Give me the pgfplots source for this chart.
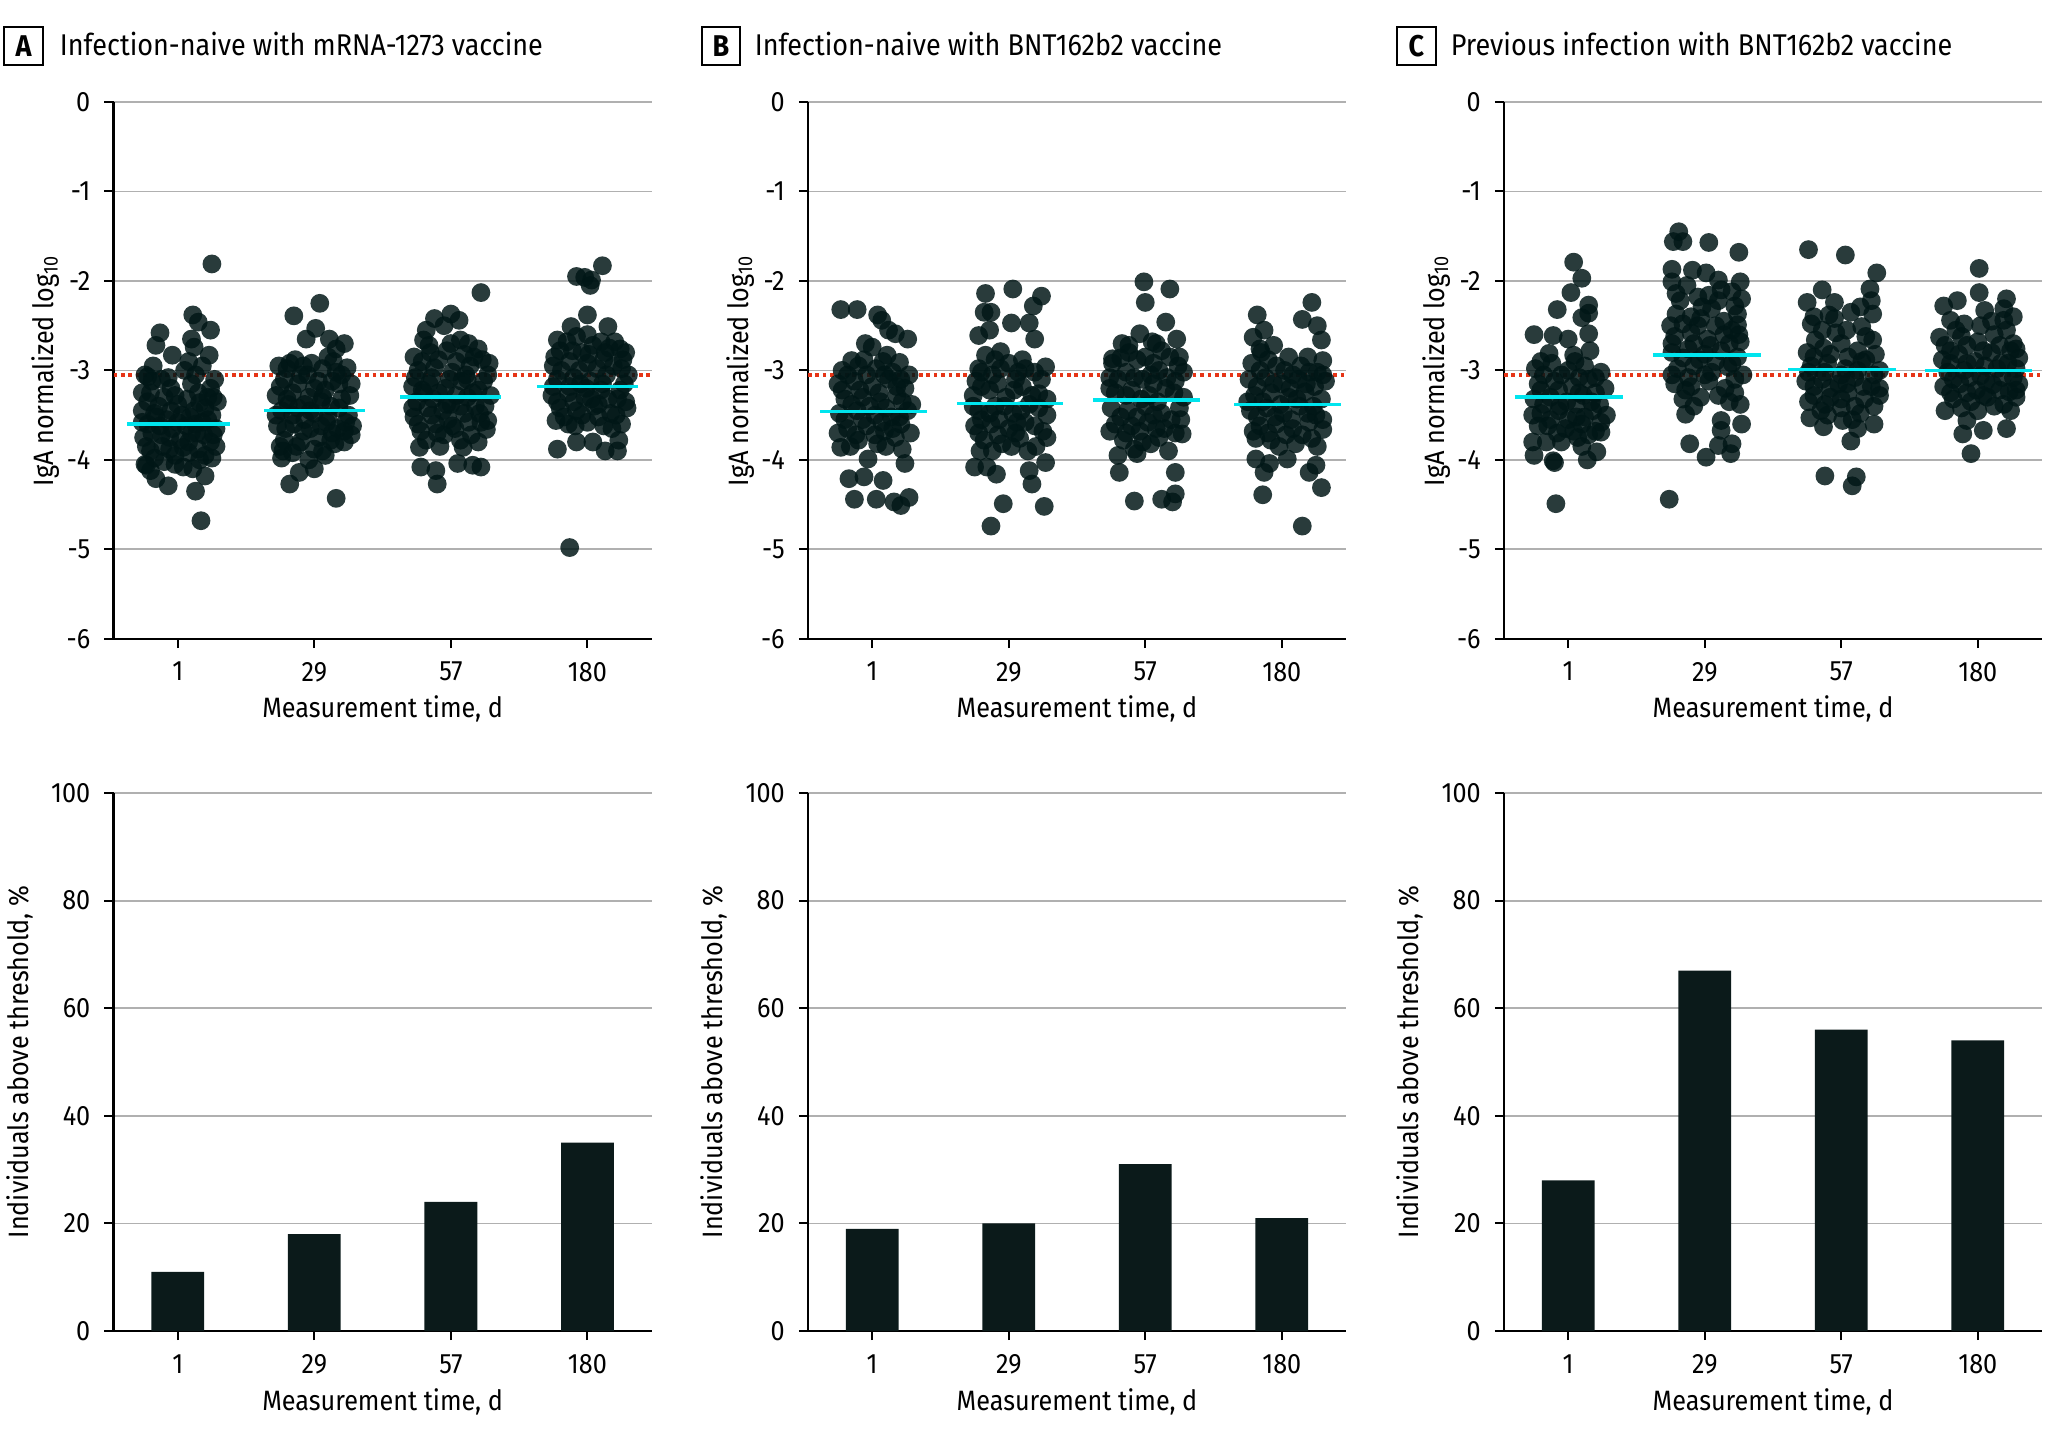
\documentclass[border=0pt]{standalone}
\usepackage{fontspec}
\setmainfont{Fira Sans}[FakeStretch=0.9]
\usepackage{pgfplots}
\pgfplotsset{compat=1.18}

\definecolor{dotcol}{RGB}{0,22,22}
\definecolor{barcol}{RGB}{11,26,26}
\definecolor{gridcol}{RGB}{176,176,176}
\definecolor{thrcol}{RGB}{230,52,22}
\definecolor{medcol}{RGB}{0,229,238}

\newcommand{\fs}{\fontsize{7}{8.4}\selectfont}
\newcommand{\ft}{\fontsize{7.5}{9}\selectfont}

\pgfplotsset{
  panel/.style={
    scale only axis, width=134.5pt,
    axis x line*=bottom, axis y line*=left,
    axis line style={black, line width=0.55pt},
    xmin=-0.47, xmax=3.47,
    xtick={0,1,2,3}, xticklabels={1,29,57,180},
    ymajorgrids, grid style={gridcol, line width=0.45pt},
    tick align=outside, major tick length=2.3pt,
    tick style={black, line width=0.5pt},
    ticklabel style={font=\fs},
    label style={font=\fs},
    xlabel={Measurement time, d},
    xlabel style={at={(axis description cs:0.5,-0.131)}, anchor=center},
    clip=false,
  },
  toprow/.style={panel, height=134.2pt, ymin=-6, ymax=0,
    ytick={0,-1,-2,-3,-4,-5,-6}, yticklabels={0,-1,-2,-3,-4,-5,-6},
    ylabel={IgA normalized log\textsubscript{10}},
    ylabel style={at={(axis description cs:-0.126,0.5)}, anchor=center}},
  overlay/.style={scale only axis, width=134.5pt, height=134.2pt,
    xmin=-0.47, xmax=3.47, ymin=-6, ymax=0, hide axis, clip=false},
  botrow/.style={panel, height=134.5pt, ymin=0, ymax=100,
    ytick={0,20,40,60,80,100}, yticklabels={0,20,40,60,80,100},
    ylabel={Individuals above threshold, \%},
    ylabel style={at={(axis description cs:-0.175,0.5)}, anchor=center}},
  dots/.style={only marks, mark=*, mark size=2.35pt,
    mark options={draw opacity=0, line width=0pt, fill=dotcol, fill opacity=0.84}},
  thr/.style={thrcol, line width=0.85pt, dash pattern=on 0.9pt off 0.95pt},
  med/.style={medcol, line width=0.9pt},
  bars/.style={ybar, bar width=13.2pt, fill=barcol, draw=none},
}

\begin{document}
\begin{tikzpicture}
\path[use as bounding box] (0,0) rectangle (512pt,-359.5pt);

% ---------- A top ----------
\begin{axis}[toprow, at={(28.4pt,-25.5pt)}, anchor=north west]
\addplot[thr] coordinates {(-0.47,-3.05) (3.47,-3.05)};
\addplot[dots] table {
0.25 -1.81
0.17 -4.68
0.11 -2.38
0.15 -2.46
0.24 -2.55
-0.13 -2.58
-0.16 -2.72
0.10 -2.65
0.23 -2.83
-0.04 -2.83
0.12 -2.74
-0.07 -4.29
-0.16 -4.21
0.13 -4.35
0.20 -4.18
-0.23 -4.06
-0.22 -3.07
-0.24 -3.05
-0.12 -3.10
0.05 -3.00
0.18 -2.95
0.27 -3.10
-0.20 -3.25
-0.05 -3.20
0.10 -3.15
0.22 -3.30
0.29 -3.35
-0.26 -3.45
-0.14 -3.40
0.00 -3.38
0.12 -3.45
0.25 -3.50
-0.22 -3.60
-0.08 -3.55
0.06 -3.62
0.18 -3.58
0.28 -3.65
-0.25 -3.75
-0.12 -3.72
0.02 -3.78
0.14 -3.70
0.24 -3.80
-0.20 -3.90
-0.06 -3.88
0.08 -3.92
0.20 -3.95
0.28 -3.85
-0.24 -4.05
-0.10 -4.02
0.04 -4.08
0.16 -4.00
-0.16 -3.52
0.10 -3.70
-0.02 -3.95
0.20 -3.42
-0.10 -3.30
0.08 -2.90
-0.18 -2.95
0.03 -3.50
-0.04 -3.65
0.15 -3.25
-0.19 -3.12
-0.07 -3.08
0.13 -3.05
0.24 -3.20
-0.22 -3.35
-0.02 -3.28
0.07 -3.32
0.16 -3.36
-0.17 -3.48
-0.05 -3.45
0.09 -3.52
0.22 -3.55
-0.26 -3.58
-0.13 -3.62
0.00 -3.58
0.13 -3.60
0.26 -3.72
-0.19 -3.70
-0.06 -3.75
0.08 -3.80
0.19 -3.72
-0.23 -3.85
-0.11 -3.85
0.04 -3.86
0.15 -3.88
-0.17 -3.98
-0.02 -4.05
0.11 -4.10
-0.20 -4.12
0.25 -3.98
0.26 -3.30
-0.26 -3.25
1.04 -2.25
0.85 -2.39
1.01 -2.53
0.94 -2.65
1.11 -2.65
1.22 -2.70
1.16 -2.76
0.82 -4.27
1.00 -4.10
1.16 -4.43
0.77 -3.90
0.89 -4.14
0.76 -3.98
0.74 -2.95
0.86 -2.88
0.98 -2.92
1.10 -2.85
1.24 -2.97
0.78 -3.10
0.90 -3.05
1.03 -3.12
1.16 -3.02
1.27 -3.15
0.72 -3.28
0.84 -3.25
0.96 -3.30
1.08 -3.22
1.20 -3.32
0.76 -3.45
0.88 -3.42
1.00 -3.48
1.12 -3.40
1.25 -3.50
0.73 -3.62
0.85 -3.60
0.97 -3.65
1.09 -3.58
1.22 -3.68
0.78 -3.78
0.90 -3.80
1.03 -3.75
1.15 -3.82
1.27 -3.72
0.84 -3.92
1.06 -3.90
0.93 -3.55
1.18 -3.15
0.81 -3.38
1.05 -3.35
0.95 -3.05
1.13 -3.70
0.80 -2.98
0.92 -2.95
1.06 -2.98
1.20 -3.05
0.75 -3.18
0.88 -3.15
1.00 -3.20
1.13 -3.12
1.26 -3.28
0.80 -3.32
0.93 -3.38
1.06 -3.30
1.18 -3.42
0.72 -3.50
0.84 -3.50
0.97 -3.45
1.10 -3.52
1.23 -3.58
0.79 -3.65
0.92 -3.68
1.05 -3.62
1.17 -3.65
1.28 -3.62
0.75 -3.85
0.87 -3.85
1.00 -3.88
1.12 -3.78
1.22 -3.80
0.96 -4.00
1.08 -3.95
0.82 -2.92
1.14 -2.90
2.22 -2.13
2.00 -2.37
1.88 -2.42
2.06 -2.44
1.82 -2.55
1.95 -2.50
2.07 -2.66
2.20 -2.76
1.80 -2.66
1.90 -4.27
1.78 -4.08
1.89 -4.12
2.05 -4.04
2.22 -4.08
2.16 -4.06
2.09 -3.86
1.77 -3.86
1.73 -2.85
1.85 -2.80
1.97 -2.78
2.10 -2.82
2.23 -2.88
1.76 -3.00
1.88 -2.97
2.01 -3.02
2.14 -2.95
2.27 -3.05
1.72 -3.18
1.84 -3.15
1.96 -3.20
2.08 -3.12
2.20 -3.22
1.75 -3.35
1.87 -3.32
2.00 -3.38
2.12 -3.30
2.25 -3.40
1.73 -3.52
1.86 -3.50
1.98 -3.55
2.10 -3.48
2.22 -3.58
1.78 -3.68
1.90 -3.70
2.03 -3.65
2.15 -3.72
2.26 -3.66
1.92 -3.85
2.12 -3.10
1.94 -3.45
2.18 -3.40
1.80 -3.25
1.79 -2.90
1.91 -2.88
2.04 -2.90
2.17 -2.85
2.28 -2.92
1.74 -3.08
1.86 -3.08
1.99 -3.10
2.11 -3.05
2.24 -3.12
1.79 -3.22
1.91 -3.25
2.04 -3.28
2.16 -3.25
2.29 -3.28
1.72 -3.42
1.83 -3.42
1.97 -3.38
2.07 -3.40
2.21 -3.48
1.76 -3.60
1.89 -3.60
2.01 -3.62
2.13 -3.58
2.27 -3.56
1.82 -3.78
1.95 -3.72
2.07 -3.78
2.20 -3.80
2.00 -2.70
1.84 -2.72
2.13 -2.70
3.11 -1.83
2.92 -1.95
2.98 -1.96
3.03 -1.99
3.02 -2.05
2.87 -4.98
3.00 -2.38
3.15 -2.51
2.88 -2.51
2.78 -2.66
3.24 -2.76
2.78 -3.88
2.92 -3.80
3.13 -3.90
3.22 -3.90
3.23 -3.78
3.04 -3.80
2.77 -3.56
2.80 -2.78
2.92 -2.62
3.04 -2.72
3.16 -2.75
3.28 -2.80
2.75 -2.95
2.87 -2.90
3.00 -2.92
3.12 -2.88
3.25 -2.98
2.78 -3.10
2.90 -3.08
3.02 -3.12
3.14 -3.05
3.27 -3.15
2.74 -3.28
2.86 -3.25
2.98 -3.30
3.10 -3.22
3.22 -3.32
2.80 -3.42
2.92 -3.45
3.05 -3.40
3.17 -3.48
3.29 -3.42
2.86 -3.60
3.00 -3.58
3.12 -3.62
3.25 -3.60
2.96 -2.80
3.08 -3.38
2.95 -3.15
2.76 -2.85
2.89 -2.78
3.01 -2.82
3.13 -2.80
3.26 -2.88
2.81 -3.00
2.94 -3.00
3.07 -2.98
3.19 -2.95
3.30 -3.05
2.75 -3.18
2.87 -3.18
2.99 -3.20
3.11 -3.15
3.24 -3.22
2.78 -3.35
2.90 -3.35
3.03 -3.32
3.15 -3.32
3.28 -3.35
2.83 -3.52
2.96 -3.50
3.08 -3.52
3.21 -3.50
2.91 -3.62
3.18 -3.65
2.85 -2.68
3.10 -2.68
3.00 -2.60
3.20 -2.68
};
\end{axis}
\begin{axis}[overlay, at={(28.4pt,-25.5pt)}, anchor=north west]
\addplot[med] coordinates {(-0.37,-3.60) (0.38,-3.60)};
\addplot[med] coordinates {(0.63,-3.45) (1.37,-3.45)};
\addplot[med] coordinates {(1.63,-3.30) (2.37,-3.30)};
\addplot[med] coordinates {(2.63,-3.18) (3.37,-3.18)};
\end{axis}

% ---------- B top ----------
\begin{axis}[toprow, at={(202pt,-25.5pt)}, anchor=north west]
\addplot[thr] coordinates {(-0.47,-3.05) (3.47,-3.05)};
\addplot[dots] table {
-0.23 -2.32
-0.11 -2.32
0.04 -2.38
0.07 -2.44
0.12 -2.55
0.17 -2.59
0.26 -2.65
-0.05 -2.70
0.00 -2.74
0.11 -2.83
0.20 -2.91
-0.15 -2.89
-0.13 -4.44
0.03 -4.44
0.16 -4.47
0.27 -4.42
0.21 -4.51
-0.17 -4.21
-0.06 -4.19
0.08 -4.23
0.24 -4.04
-0.23 -3.86
-0.03 -3.99
-0.22 -3.00
-0.10 -2.95
0.03 -2.98
0.15 -3.02
0.27 -3.05
-0.25 -3.15
-0.13 -3.12
0.00 -3.18
0.12 -3.10
0.24 -3.20
-0.20 -3.32
-0.07 -3.30
0.06 -3.35
0.18 -3.28
0.29 -3.38
-0.24 -3.48
-0.11 -3.45
0.02 -3.50
0.14 -3.52
0.26 -3.45
-0.18 -3.65
-0.04 -3.62
0.09 -3.68
0.21 -3.60
0.28 -3.70
-0.10 -3.78
0.04 -3.82
0.17 -3.75
0.22 -3.88
-0.02 -3.40
-0.18 -3.05
-0.04 -3.05
0.09 -3.05
0.21 -3.10
-0.22 -3.22
-0.09 -3.22
0.05 -3.25
0.18 -3.18
-0.15 -3.38
0.10 -3.42
0.22 -3.35
-0.20 -3.55
-0.07 -3.55
0.07 -3.58
0.20 -3.52
-0.25 -3.70
-0.12 -3.72
0.15 -3.65
0.02 -3.72
-0.16 -3.85
0.10 -3.85
-0.06 -2.88
0.08 -2.90
1.03 -2.09
0.83 -2.14
1.24 -2.17
1.18 -2.28
0.82 -2.35
0.87 -2.35
1.02 -2.47
1.15 -2.47
0.86 -2.55
0.78 -2.61
1.19 -2.65
0.83 -2.83
0.94 -2.79
1.27 -2.96
0.78 -2.98
0.87 -4.74
0.96 -4.49
1.26 -4.52
1.17 -4.27
1.15 -4.12
1.27 -4.03
0.75 -4.08
0.91 -4.16
0.84 -4.08
0.79 -3.90
0.76 -3.12
0.88 -3.05
1.00 -2.92
1.12 -2.98
1.24 -3.10
0.74 -3.28
0.86 -3.22
0.98 -3.30
1.10 -3.18
1.22 -3.26
0.78 -3.45
0.90 -3.40
1.03 -3.48
1.15 -3.38
1.28 -3.50
0.75 -3.62
0.87 -3.60
1.00 -3.65
1.12 -3.58
1.25 -3.68
0.82 -3.78
0.95 -3.82
1.08 -3.76
1.20 -3.85
1.05 -3.10
0.93 -3.55
0.80 -3.02
0.94 -2.98
1.07 -3.02
1.19 -3.02
0.80 -3.18
0.92 -3.15
1.04 -3.22
1.17 -3.28
1.28 -3.32
0.74 -3.40
0.86 -3.48
0.97 -3.40
1.09 -3.45
1.22 -3.42
0.80 -3.55
1.06 -3.58
1.19 -3.62
0.78 -3.70
0.92 -3.72
1.05 -3.70
1.28 -3.75
0.88 -3.90
1.02 -3.85
1.14 -3.90
0.90 -2.88
1.10 -2.88
1.99 -2.01
2.18 -2.09
2.00 -2.24
2.15 -2.46
1.96 -2.59
1.83 -2.70
2.23 -2.65
2.05 -2.68
1.76 -2.87
2.25 -2.85
1.92 -4.46
2.12 -4.44
2.20 -4.47
2.22 -4.38
1.81 -4.14
2.22 -4.14
2.17 -3.90
1.94 -3.93
1.80 -3.95
2.27 -3.71
1.76 -2.92
1.88 -2.80
2.00 -2.85
2.12 -2.78
2.24 -2.95
1.74 -3.08
1.86 -3.02
1.98 -3.10
2.10 -3.00
2.22 -3.12
1.78 -3.25
1.90 -3.22
2.03 -3.28
2.15 -3.20
2.28 -3.30
1.75 -3.42
1.87 -3.45
2.00 -3.40
2.12 -3.48
2.25 -3.42
1.78 -3.60
1.90 -3.62
2.02 -3.58
2.14 -3.65
2.26 -3.55
1.84 -3.78
1.98 -3.80
2.10 -3.75
2.06 -3.15
1.82 -2.86
1.94 -2.88
2.06 -2.92
2.18 -2.85
2.28 -3.02
1.80 -3.10
1.92 -3.08
2.04 -3.05
2.16 -3.08
1.74 -3.20
1.86 -3.28
1.97 -3.32
2.09 -3.35
2.21 -3.25
1.82 -3.52
1.94 -3.52
2.06 -3.50
2.19 -3.55
1.74 -3.68
1.86 -3.70
1.96 -3.68
2.08 -3.65
2.22 -3.70
1.92 -3.88
2.04 -3.82
1.88 -2.72
2.08 -2.70
3.22 -2.24
2.82 -2.38
3.15 -2.43
3.26 -2.50
2.87 -2.55
3.29 -2.66
2.79 -2.63
2.94 -2.72
2.84 -2.76
3.19 -2.85
3.30 -2.89
3.15 -4.74
2.86 -4.39
3.29 -4.31
2.87 -4.14
3.20 -4.14
3.25 -4.06
2.81 -3.99
2.91 -4.04
3.04 -3.99
2.81 -3.76
2.78 -2.92
2.90 -2.88
3.02 -3.00
3.14 -2.95
3.26 -3.02
2.76 -3.10
2.88 -3.08
3.00 -3.15
3.12 -3.10
3.24 -3.18
3.32 -3.12
2.80 -3.28
2.92 -3.25
3.05 -3.30
3.17 -3.24
3.29 -3.32
2.77 -3.45
2.89 -3.42
3.01 -3.48
3.13 -3.40
3.25 -3.50
2.84 -3.62
2.96 -3.60
3.08 -3.65
3.20 -3.58
3.30 -3.66
2.92 -3.78
3.10 -3.82
3.22 -3.76
2.84 -3.00
2.96 -2.95
3.08 -3.05
3.20 -3.02
3.30 -3.05
2.82 -3.18
2.94 -3.15
3.06 -3.20
3.18 -3.15
2.75 -3.35
2.86 -3.35
2.99 -3.38
3.11 -3.32
3.23 -3.40
2.82 -3.52
2.95 -3.52
3.07 -3.55
3.19 -3.48
3.30 -3.55
2.79 -3.68
2.90 -3.70
3.03 -3.72
3.15 -3.72
2.98 -3.85
3.26 -3.85
2.85 -2.80
3.05 -2.85
};
\end{axis}
\begin{axis}[overlay, at={(202pt,-25.5pt)}, anchor=north west]
\addplot[med] coordinates {(-0.38,-3.46) (0.40,-3.46)};
\addplot[med] coordinates {(0.62,-3.37) (1.40,-3.37)};
\addplot[med] coordinates {(1.62,-3.33) (2.40,-3.33)};
\addplot[med] coordinates {(2.65,-3.38) (3.43,-3.38)};
\end{axis}

% ---------- C top ----------
\begin{axis}[toprow, at={(376pt,-25.5pt)}, anchor=north west]
\addplot[thr] coordinates {(-0.47,-3.05) (3.47,-3.05)};
\addplot[dots] table {
0.04 -1.79
0.10 -1.97
0.02 -2.13
-0.08 -2.32
0.15 -2.27
0.15 -2.36
0.10 -2.41
-0.25 -2.60
-0.11 -2.61
0.15 -2.59
0.00 -2.65
0.04 -2.83
-0.14 -2.81
0.16 -2.78
-0.09 -4.49
-0.11 -4.01
-0.10 -4.03
-0.25 -3.95
0.14 -4.00
0.21 -3.91
-0.26 -3.80
0.24 -3.69
-0.24 -2.98
-0.12 -2.92
0.00 -3.00
0.12 -2.95
0.24 -3.02
-0.22 -3.15
-0.10 -3.12
0.03 -3.18
0.15 -3.10
0.27 -3.20
-0.25 -3.32
-0.13 -3.30
-0.01 -3.35
0.11 -3.28
0.23 -3.38
-0.20 -3.48
-0.07 -3.45
0.06 -3.52
0.18 -3.45
0.28 -3.50
-0.15 -3.62
-0.02 -3.65
0.10 -3.60
0.20 -3.68
-0.05 -3.80
0.07 -3.75
-0.18 -3.05
-0.05 -3.05
0.08 -3.08
0.20 -3.08
-0.20 -3.22
-0.07 -3.22
0.08 -3.25
0.20 -3.25
-0.18 -3.38
-0.06 -3.40
0.06 -3.38
0.17 -3.35
-0.26 -3.50
-0.13 -3.55
0.00 -3.55
0.12 -3.52
0.24 -3.58
-0.22 -3.62
-0.08 -3.70
0.04 -3.68
0.15 -3.72
-0.16 -3.80
0.10 -3.85
-0.20 -2.90
0.05 -2.90
0.81 -1.45
0.77 -1.56
0.84 -1.56
1.03 -1.57
1.25 -1.68
0.76 -1.87
0.91 -1.88
1.01 -1.91
1.10 -1.99
0.76 -2.01
1.26 -2.01
0.79 -2.14
1.03 -2.16
1.20 -2.12
1.27 -2.20
0.98 -2.29
0.79 -2.37
0.90 -2.40
1.24 -2.37
1.05 -2.31
0.75 -2.50
1.14 -2.45
1.24 -2.49
0.74 -4.44
0.89 -3.82
1.01 -3.97
1.19 -3.93
1.10 -3.84
1.20 -3.82
1.12 -3.67
1.27 -3.60
1.12 -3.56
0.86 -3.49
1.18 -3.35
0.78 -2.62
0.90 -2.58
1.02 -2.65
1.14 -2.60
1.26 -2.68
0.76 -2.80
0.88 -2.76
1.00 -2.82
1.12 -2.78
1.24 -2.85
0.80 -2.98
0.92 -2.95
1.05 -3.02
1.17 -2.96
1.28 -3.05
0.78 -3.15
0.90 -3.18
1.03 -3.12
1.15 -3.20
0.84 -3.32
0.97 -3.30
1.22 -3.25
0.95 -2.50
0.82 -2.22
0.95 -2.18
1.10 -2.22
1.22 -2.28
0.84 -2.48
0.97 -2.42
1.08 -2.50
1.20 -2.55
0.76 -2.70
0.92 -2.70
1.04 -2.72
1.18 -2.70
0.84 -2.86
0.96 -2.88
1.08 -2.90
1.20 -2.92
0.76 -3.05
0.88 -3.08
1.00 -3.05
1.22 -3.10
0.86 -3.22
1.10 -3.28
1.26 -3.38
0.92 -3.40
0.87 -2.05
1.12 -2.10
1.25 -2.60
1.76 -1.65
2.03 -1.71
2.26 -1.91
1.86 -2.10
2.21 -2.09
1.75 -2.24
1.95 -2.24
2.22 -2.22
2.14 -2.29
1.91 -2.38
1.78 -2.48
2.23 -2.37
2.15 -2.51
1.95 -2.42
1.81 -2.66
2.23 -2.66
1.88 -4.18
2.11 -4.19
2.08 -4.29
2.07 -3.79
1.87 -3.63
2.24 -3.60
2.12 -3.65
1.77 -3.53
2.01 -3.56
1.75 -2.80
1.87 -2.75
2.00 -2.70
2.12 -2.78
2.25 -2.82
1.78 -2.95
1.90 -2.92
2.03 -2.98
2.15 -2.90
2.28 -3.00
1.74 -3.12
1.86 -3.10
1.98 -3.15
2.10 -3.08
2.22 -3.18
1.80 -3.28
1.92 -3.30
2.05 -3.25
2.17 -3.32
2.28 -3.28
1.85 -3.45
2.00 -3.42
2.14 -3.48
1.96 -2.58
1.80 -2.85
1.92 -2.82
2.05 -2.85
2.18 -2.88
1.76 -3.02
1.88 -3.02
2.00 -3.05
2.12 -3.00
2.24 -3.05
1.80 -3.18
1.92 -3.20
2.04 -3.15
2.16 -3.18
2.28 -3.20
1.76 -3.35
1.88 -3.38
2.00 -3.32
2.10 -3.40
2.24 -3.40
1.90 -3.50
2.08 -3.55
1.86 -2.55
2.04 -2.55
2.18 -2.62
1.80 -2.40
2.07 -2.35
3.01 -1.86
3.01 -2.13
3.21 -2.20
2.85 -2.22
2.75 -2.28
3.19 -2.31
3.05 -2.33
3.19 -2.44
2.80 -2.44
2.90 -2.48
3.21 -2.55
3.26 -2.70
2.72 -2.63
2.95 -3.93
3.21 -3.65
2.89 -3.71
3.04 -3.67
2.92 -3.56
2.76 -3.45
2.76 -2.72
2.88 -2.62
3.00 -2.68
3.12 -2.60
3.24 -2.78
2.74 -2.88
2.86 -2.82
2.98 -2.90
3.10 -2.80
3.22 -2.92
3.30 -2.86
2.78 -3.02
2.90 -3.00
3.02 -3.06
3.14 -2.98
3.26 -3.08
2.75 -3.18
2.87 -3.15
2.99 -3.22
3.11 -3.16
3.23 -3.24
2.82 -3.32
2.95 -3.35
3.07 -3.30
3.19 -3.38
3.28 -3.30
3.02 -2.50
2.80 -2.78
2.92 -2.72
3.04 -2.78
3.16 -2.72
3.28 -2.76
2.80 -2.92
2.92 -2.92
3.05 -2.95
3.17 -2.92
3.28 -2.98
2.82 -3.10
2.94 -3.08
3.06 -3.12
3.18 -3.08
3.30 -3.15
2.80 -3.25
2.92 -3.25
3.04 -3.28
3.16 -3.22
3.28 -3.22
2.88 -3.42
3.00 -3.45
3.12 -3.40
3.24 -3.45
2.84 -2.55
3.10 -2.45
3.26 -2.40
};
\end{axis}
\begin{axis}[overlay, at={(376pt,-25.5pt)}, anchor=north west]
\addplot[med] coordinates {(-0.39,-3.30) (0.40,-3.30)};
\addplot[med] coordinates {(0.62,-2.83) (1.41,-2.83)};
\addplot[med] coordinates {(1.61,-2.99) (2.40,-2.99)};
\addplot[med] coordinates {(2.61,-3.00) (3.40,-3.00)};
\end{axis}

% ---------- bottom row ----------
\begin{axis}[botrow, at={(28.4pt,-198.25pt)}, anchor=north west]
\addplot[bars] coordinates {(0,11) (1,18) (2,24) (3,35)};
\end{axis}
\begin{axis}[botrow, at={(202pt,-198.25pt)}, anchor=north west]
\addplot[bars] coordinates {(0,19) (1,20) (2,31) (3,21)};
\end{axis}
\begin{axis}[botrow, at={(376pt,-198.25pt)}, anchor=north west]
\addplot[bars] coordinates {(0,28) (1,67) (2,56) (3,54)};
\end{axis}

% ---------- panel titles ----------
\foreach \bx/\tx/\lt/\tt in {5.9pt/14.75pt/A/Infection-naive with mRNA-1273 vaccine,
  180.25pt/188.5pt/B/Infection-naive with BNT162b2 vaccine,
  354.1pt/362.5pt/C/Previous infection with BNT162b2 vaccine}{
  \node[draw, line width=0.5pt, minimum size=9.6pt, inner sep=0pt, font=\ft\bfseries]
    at (\bx,-11.5pt) {\lt};
  \node[anchor=base west, inner sep=0pt, font=\ft] at (\tx,-13.9pt) {\tt};
}
\end{tikzpicture}
\end{document}
